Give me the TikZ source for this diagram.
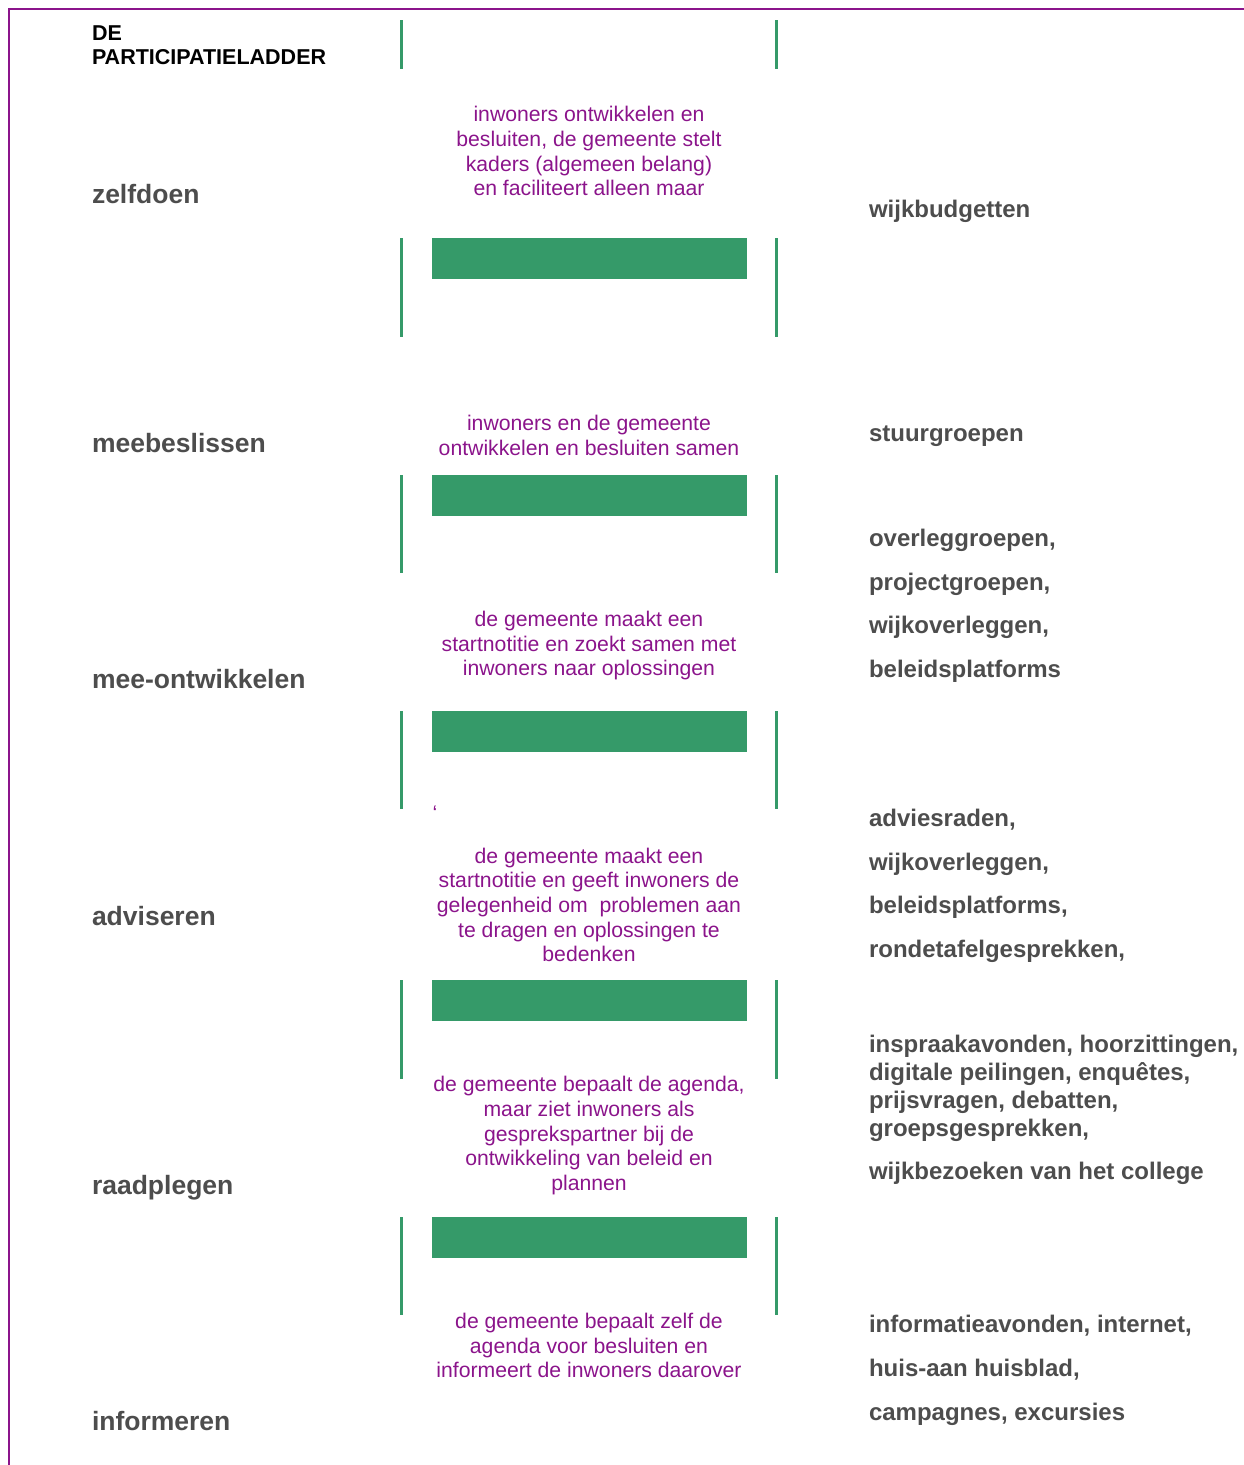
\documentclass[tikz,border=0pt]{standalone}
\usepackage{fontspec}
\setmainfont{Liberation Sans}
\definecolor{pgreen}{RGB}{53,154,105}
\definecolor{ppurple}{RGB}{139,20,139}
\definecolor{pgray}{RGB}{77,77,77}
\begin{document}
\begin{tikzpicture}[x=1pt,y=-1pt,
 every node/.style={inner sep=0pt, outer sep=0pt},
 lbl/.style={anchor=base west, text=pgray, font=\fontsize{26.5}{30}\selectfont\bfseries},
 rtxt/.style={anchor=base west, text=pgray, font=\fontsize{24}{28}\selectfont\bfseries},
 ptxt/.style={anchor=base, text=ppurple, font=\fontsize{21.2}{24.5}\selectfont},
 ttl/.style={anchor=base west, text=black, font=\fontsize{21.5}{24}\selectfont\bfseries},
 gline/.style={draw=pgreen, line width=3pt},
 gbar/.style={fill=pgreen},
 frame/.style={draw=ppurple, line width=2pt}]
\useasboundingbox (0,0) rectangle (1244,1465);
\draw[frame] (9,1466) -- (9,9) -- (1245,9);

% green rails
\foreach \a/\b in {20/69,238/337,475/573,711/809,980/1079,1217/1315}{
  \draw[gline] (401.5,\a) -- (401.5,\b);
  \draw[gline] (776.5,\a) -- (776.5,\b);
}
% green rungs
\foreach \a in {238,475,711,980,1217}{
  \fill[gbar] (432,\a) rectangle (747,\a+41);
}

% title
\node[ttl] (t1) at (92,40) {DE};
\node[ttl] (t2) at (92,64) {PARTICIPATIELADDER};

% left labels
\node[lbl] (l1) at (92,203) {zelfdoen};
\node[lbl] (l2) at (92,452) {meebeslissen};
\node[lbl] (l3) at (92,688) {mee-ontwikkelen};
\node[lbl] (l4) at (92,925) {adviseren};
\node[lbl] (l5) at (92,1194) {raadplegen};
\node[lbl] (l6) at (92,1430) {informeren};

% purple descriptions
\node[ptxt] (p1a) at (589,121) {inwoners ontwikkelen en};
\node[ptxt] (p1b) at (589,146) {besluiten, de gemeente stelt};
\node[ptxt] (p1c) at (589,171) {kaders (algemeen belang)};
\node[ptxt] (p1d) at (589,195) {en faciliteert alleen maar};

\node[ptxt] (p2a) at (589,430) {inwoners en de gemeente};
\node[ptxt] (p2b) at (589,455) {ontwikkelen en besluiten samen};

\node[ptxt] (p3a) at (589,626) {de gemeente maakt een};
\node[ptxt] (p3b) at (589,651) {startnotitie en zoekt samen met};
\node[ptxt] (p3c) at (589,675) {inwoners naar oplossingen};

\node[ptxt] (pq) at (435,820) {‘};

\node[ptxt] (p4a) at (589,863) {de gemeente maakt een};
\node[ptxt] (p4b) at (589,887) {startnotitie en geeft inwoners de};
\node[ptxt] (p4c) at (589,912) {gelegenheid om\ \ problemen aan};
\node[ptxt] (p4d) at (589,937) {te dragen en oplossingen te};
\node[ptxt] (p4e) at (589,961) {bedenken};

\node[ptxt] (p5a) at (589,1091) {de gemeente bepaalt de agenda,};
\node[ptxt] (p5b) at (589,1116) {maar ziet inwoners als};
\node[ptxt] (p5c) at (589,1141) {gesprekspartner bij de};
\node[ptxt] (p5d) at (589,1165) {ontwikkeling van beleid en};
\node[ptxt] (p5e) at (589,1190) {plannen};

\node[ptxt] (p6a) at (589,1328) {de gemeente bepaalt zelf de};
\node[ptxt] (p6b) at (589,1353) {agenda voor besluiten en};
\node[ptxt] (p6c) at (589,1377) {informeert de inwoners daarover};

% right examples
\node[rtxt] (r1) at (869,217) {wijkbudgetten};
\node[rtxt] (r2) at (869,441) {stuurgroepen};
\node[rtxt] (r3a) at (869,546) {overleggroepen,};
\node[rtxt] (r3b) at (869,590) {projectgroepen,};
\node[rtxt] (r3c) at (869,633) {wijkoverleggen,};
\node[rtxt] (r3d) at (869,677) {beleidsplatforms};
\node[rtxt] (r4a) at (869,826) {adviesraden,};
\node[rtxt] (r4b) at (869,870) {wijkoverleggen,};
\node[rtxt] (r4c) at (869,913) {beleidsplatforms,};
\node[rtxt] (r4d) at (869,957) {rondetafelgesprekken,};
\node[rtxt] (r5a) at (869,1052) {inspraakavonden, hoorzittingen,};
\node[rtxt] (r5b) at (869,1080) {digitale peilingen, enquêtes,};
\node[rtxt] (r5c) at (869,1108) {prijsvragen, debatten,};
\node[rtxt] (r5d) at (869,1136) {groepsgesprekken,};
\node[rtxt] (r5e) at (869,1179) {wijkbezoeken van het college};
\node[rtxt] (r6a) at (869,1332) {informatieavonden, internet,};
\node[rtxt] (r6b) at (869,1376) {huis-aan huisblad,};
\node[rtxt] (r6c) at (869,1420) {campagnes, excursies};
\end{tikzpicture}
\end{document}
